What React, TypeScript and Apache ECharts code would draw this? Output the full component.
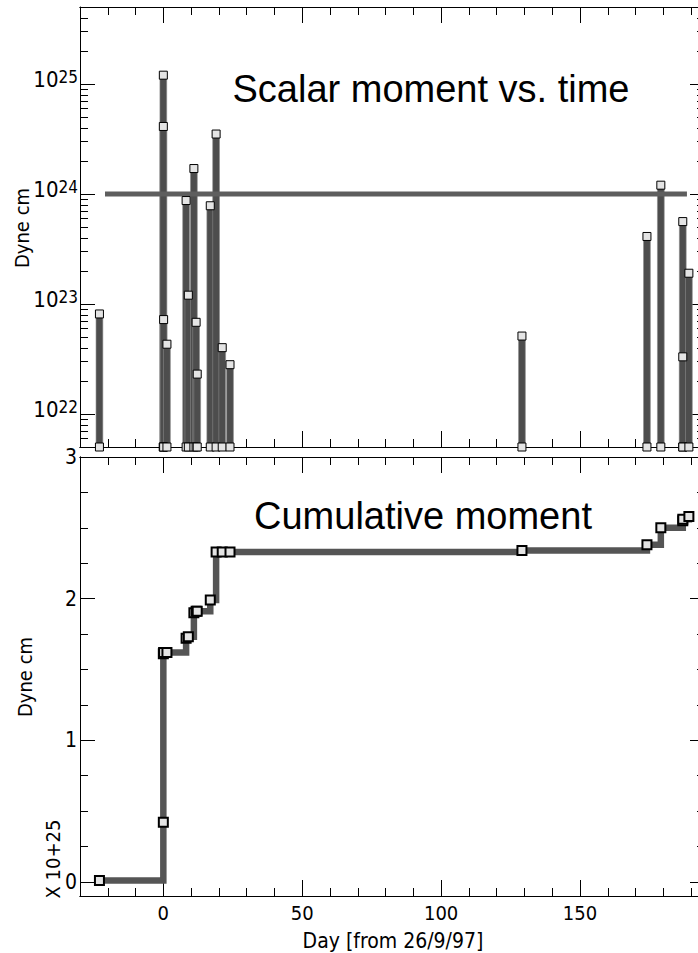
import React, { useEffect, useRef } from "react";
import * as echarts from "echarts";

// ---- data ----
const eventDays = [-23.0, 0.0, 0.0, 0.1, 1.3, 8.2, 9.0, 11.0, 11.8, 12.2, 16.9, 19.0, 21.2, 24.0, 129.1, 174.1, 179.1, 187.0, 187.0, 189.2];
const eventMoments = [8.1e22, 4.1e24, 1.2e25, 7.2e22, 4.3e22, 8.7e23, 1.2e23, 1.7e24, 6.8e22, 2.3e22, 7.8e23, 3.5e24, 4.0e22, 2.8e22, 5.1e22, 4.1e23, 1.2e24, 5.6e23, 3.3e22, 1.9e23];
const cumulativeDays = [-23.0, 0.0, 0.0, 0.1, 1.3, 8.2, 9.0, 11.0, 11.8, 12.2, 16.9, 19.0, 21.2, 24.0, 129.1, 174.1, 179.1, 187.0, 187.0, 189.2];
const cumulativeMoments = [0.01, 0.42, 1.61, 1.62, 1.62, 1.72, 1.73, 1.90, 1.91, 1.91, 1.99, 2.33, 2.33, 2.33, 2.34, 2.38, 2.50, 2.55, 2.56, 2.58];
const referenceLineDays = [-21, 188.5];
const referenceLineMoment = 1e24;
const dayMajorTicks = [0, 50, 100, 150];
const dayMinorTicks = [-20, -10, 10, 20, 30, 40, 60, 70, 80, 90, 110, 120, 130, 140, 160, 170, 180, 190];
const momentDecadeExponents = [22, 23, 24, 25];
const cumMajorTicks = [0, 1, 2, 3];
const cumMinorTicks = [0.25, 0.5, 0.75, 1.25, 1.5, 1.75, 2.25, 2.5, 2.75];
const minorMultipliers = [2, 3, 4, 5, 6, 7, 8, 9];

const DAY_MIN = -30;
const DAY_MAX = 195;
const MOMENT_MIN = 5e21;
const MOMENT_MAX = 5e25;
const CUM_MIN = -0.1;
const CUM_MAX = 3;

const HERSHEY = "'DejaVu Sans Condensed', 'Liberation Sans Narrow', 'DejaVu Sans', sans-serif";
const HELV = "'Liberation Sans', Arial, Helvetica, sans-serif";
const BAR_COLOR = "#4d4d4d";
const SQUARE_FILL = "#e4e4e4";

const logMinorTicks: number[] = [];
for (let e = 21; e <= 25; e++) {
  for (const m of minorMultipliers) {
    const v = m * Math.pow(10, e);
    if (v > MOMENT_MIN * 1.0001 && v < MOMENT_MAX * 0.9999) logMinorTicks.push(v);
  }
}

const AXIS_LINE = { show: true, onZero: false, lineStyle: { color: "#000", width: 1 } };

function xAxis(gridIndex: number, position: string, ticks: number[], len: number, labels: boolean) {
  return {
    type: "value",
    gridIndex,
    position,
    min: DAY_MIN,
    max: DAY_MAX,
    axisLine: AXIS_LINE,
    axisTick: { show: true, inside: true, length: len, customValues: ticks, lineStyle: { color: "#000", width: 1 } },
    axisLabel: labels
      ? {
          show: true,
          customValues: ticks,
          margin: 7,
          color: "#000",
          fontFamily: HERSHEY,
          fontSize: 20,
          formatter: (v: number) => String(Math.round(v)),
        }
      : { show: false },
    splitLine: { show: false },
  };
}

function cumAxis(position: string, ticks: number[], len: number, labels: boolean) {
  return {
    type: "value",
    gridIndex: 1,
    position,
    min: CUM_MIN,
    max: CUM_MAX,
    axisLine: AXIS_LINE,
    axisTick: { show: true, inside: true, length: len, customValues: ticks, lineStyle: { color: "#000", width: 1 } },
    axisLabel: labels
      ? {
          show: true,
          customValues: ticks,
          margin: 3,
          color: "#000",
          fontFamily: HERSHEY,
          fontSize: 21,
          formatter: (v: number) => String(Math.round(v)),
        }
      : { show: false },
    splitLine: { show: false },
  };
}

function logAxis(position: string, labels: boolean) {
  return {
    type: "log",
    logBase: 10,
    gridIndex: 0,
    position,
    min: MOMENT_MIN,
    max: MOMENT_MAX,
    splitNumber: 4,
    axisLine: AXIS_LINE,
    axisTick: { show: true, inside: true, length: 15, lineStyle: { color: "#000", width: 1 } },
    axisLabel: labels
      ? {
          show: true,
          margin: 2,
          color: "#000",
          padding: [0, 0, 8, 0],
          formatter: (v: number) => {
            const e = Math.log10(v);
            const r = Math.round(e);
            if (Math.abs(e - r) > 1e-6 || momentDecadeExponents.indexOf(r) < 0) return "";
            return `{b|10}{s|${r}}`;
          },
          rich: {
            b: { fontSize: 22, fontFamily: HERSHEY, color: "#000", lineHeight: 22, padding: [6, 0, 0, 0], verticalAlign: "bottom" },
            s: { fontSize: 17, fontFamily: HERSHEY, color: "#000", lineHeight: 17, verticalAlign: "top" },
          },
        }
      : { show: false },
    splitLine: { show: false },
  };
}

export default function App() {
  const ref = useRef<HTMLDivElement>(null);

  useEffect(() => {
    if (!ref.current) return;
    const chart = echarts.init(ref.current, undefined, { renderer: "svg" });

    const events = eventDays.map((d, i) => [d, eventMoments[i]]);
    const baseSquares = eventDays.map((d) => [d, MOMENT_MIN]);
    const cumulative = cumulativeDays.map((d, i) => [d, cumulativeMoments[i]]);

    const option: any = {
      animation: false,
      backgroundColor: "#fff",
      grid: [
        { left: 80, top: 7, width: 625, height: 440 },
        { left: 80, top: 457, width: 625, height: 439 },
      ],
      xAxis: [
        xAxis(0, "bottom", dayMinorTicks, 8, false),
        xAxis(0, "bottom", dayMajorTicks, 16, false),
        xAxis(0, "top", dayMinorTicks, 8, false),
        xAxis(0, "top", dayMajorTicks, 16, false),
        xAxis(1, "bottom", dayMinorTicks, 8, false),
        xAxis(1, "bottom", dayMajorTicks, 16, true),
        xAxis(1, "top", dayMinorTicks, 8, false),
        xAxis(1, "top", dayMajorTicks, 16, false),
      ],
      yAxis: [
        logAxis("left", true),
        logAxis("right", false),
        cumAxis("left", cumMinorTicks, 8, false),
        cumAxis("left", cumMajorTicks, 15, true),
        cumAxis("right", cumMinorTicks, 8, false),
        cumAxis("right", cumMajorTicks, 15, false),
      ],
      series: [
        {
          type: "custom",
          name: "spikes",
          xAxisIndex: 0,
          yAxisIndex: 0,
          z: 2,
          encode: { x: 0, y: 1 },
          data: events,
          renderItem: (params: any, api: any) => {
            const d = api.value(0);
            const m = api.value(1);
            const top = api.coord([d, m]);
            const bot = api.coord([d, MOMENT_MIN]);
            const w = 6.8;
            return {
              type: "rect",
              shape: { x: top[0] - w / 2, y: top[1], width: w, height: bot[1] - top[1] },
              style: { fill: BAR_COLOR, stroke: "#8a8a8a", lineWidth: 0.6 },
            };
          },
        },
        {
          type: "line",
          name: "reference",
          xAxisIndex: 0,
          yAxisIndex: 0,
          z: 3,
          symbol: "none",
          data: referenceLineDays.map((d) => [d, referenceLineMoment]),
          lineStyle: { color: "#5e5e5e", width: 5, cap: "butt" },
        },
        {
          type: "scatter",
          name: "event tops",
          xAxisIndex: 0,
          yAxisIndex: 0,
          z: 4,
          clip: false,
          symbol: "rect",
          symbolSize: 8,
          data: events,
          itemStyle: { color: SQUARE_FILL, borderColor: "#000", borderWidth: 1, opacity: 1 },
        },
        {
          type: "scatter",
          name: "event bases",
          xAxisIndex: 0,
          yAxisIndex: 0,
          z: 4,
          clip: false,
          symbol: "rect",
          symbolSize: 8,
          data: baseSquares,
          itemStyle: { color: SQUARE_FILL, borderColor: "#000", borderWidth: 1, opacity: 1 },
        },
        {
          type: "custom",
          name: "log minor ticks",
          xAxisIndex: 0,
          yAxisIndex: 0,
          z: 5,
          silent: true,
          encode: { x: 0, y: 1 },
          data: logMinorTicks.map((v) => [DAY_MIN, v]),
          renderItem: (params: any, api: any) => {
            const v = api.value(1);
            const l = api.coord([DAY_MIN, v]);
            const r = api.coord([DAY_MAX, v]);
            const y = Math.round(l[1]) + 0.5;
            return {
              type: "group",
              children: [
                { type: "line", shape: { x1: l[0], y1: y, x2: l[0] + 8, y2: y }, style: { stroke: "#000", lineWidth: 1 } },
                { type: "line", shape: { x1: r[0] - 8, y1: y, x2: r[0], y2: y }, style: { stroke: "#000", lineWidth: 1 } },
              ],
            };
          },
        },
        {
          type: "line",
          name: "cumulative",
          xAxisIndex: 4,
          yAxisIndex: 2,
          z: 3,
          step: "end",
          data: cumulative,
          symbol: "rect",
          symbolSize: 9,
          showSymbol: true,
          lineStyle: { color: "#555", width: 6.5, join: "miter", cap: "butt" },
          itemStyle: { color: SQUARE_FILL, borderColor: "#000", borderWidth: 2 },
        },
      ],
      graphic: [
        {
          type: "text",
          x: 431,
          y: 89,
          style: { text: "Scalar moment vs. time", fontSize: 38, fontFamily: HELV, fill: "#000", align: "center", verticalAlign: "middle" },
        },
        {
          type: "text",
          x: 423,
          y: 516,
          style: { text: "Cumulative moment", fontSize: 38, fontFamily: HELV, fill: "#000", align: "center", verticalAlign: "middle" },
        },
        {
          type: "text",
          x: 22,
          y: 228,
          rotation: Math.PI / 2,
          style: { text: "Dyne cm", fontSize: 20, fontFamily: HERSHEY, fill: "#000", align: "center", verticalAlign: "middle" },
        },
        {
          type: "text",
          x: 25,
          y: 677,
          rotation: Math.PI / 2,
          style: { text: "Dyne cm", fontSize: 20, fontFamily: HERSHEY, fill: "#000", align: "center", verticalAlign: "middle" },
        },
        {
          type: "text",
          x: 53,
          y: 859,
          rotation: Math.PI / 2,
          style: { text: "X 10+25", fontSize: 20, fontFamily: HERSHEY, fill: "#000", align: "center", verticalAlign: "middle" },
        },
        {
          type: "text",
          x: 393,
          y: 941,
          style: { text: "Day [from 26/9/97]", fontSize: 21, fontFamily: HERSHEY, fill: "#000", align: "center", verticalAlign: "middle" },
        },
      ],
    };

    chart.setOption(option);
    return () => chart.dispose();
  }, []);

  return (
    <div style={{ position: "fixed", left: 0, top: 0, width: 698, height: 953, overflow: "hidden", background: "#fff" }}>
      <div ref={ref} style={{ width: 720, height: 953 }} />
    </div>
  );
}
